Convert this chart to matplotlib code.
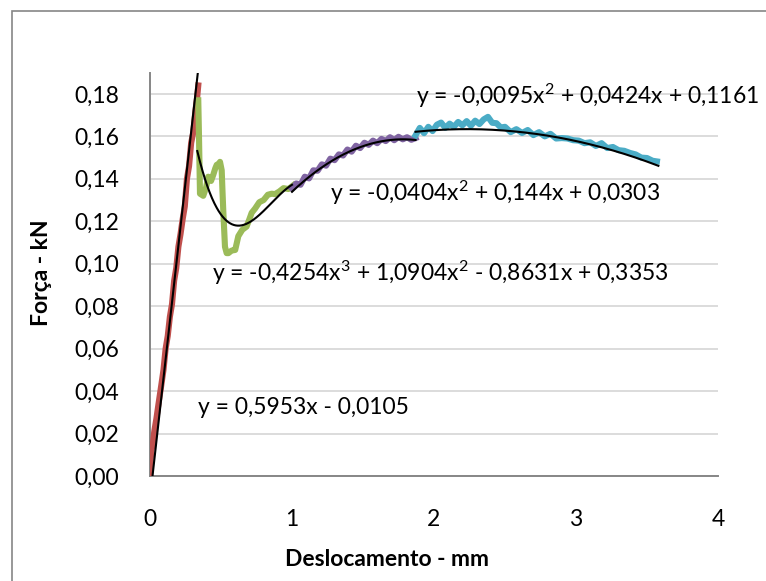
import matplotlib.pyplot as plt
import numpy as np
from matplotlib.patches import Rectangle
from matplotlib.ticker import FuncFormatter

# ---------------------------------------------------------------------------
# Data (displacement in mm, force in kN)
# ---------------------------------------------------------------------------
red_x = [0.000, 0.005, 0.010, 0.020, 0.030, 0.045, 0.060, 0.080, 0.095, 0.110,
         0.125, 0.140, 0.155, 0.170, 0.185, 0.200, 0.215, 0.230, 0.245, 0.260,
         0.275, 0.290, 0.305, 0.320, 0.333, 0.340]
red_y = [0.000, 0.008, 0.012, 0.015, 0.021, 0.027, 0.034, 0.043, 0.050, 0.060,
         0.066, 0.075, 0.081, 0.092, 0.098, 0.108, 0.114, 0.121, 0.127, 0.140,
         0.146, 0.157, 0.162, 0.172, 0.179, 0.184]

green_x = [0.340, 0.345, 0.352, 0.375, 0.395, 0.410, 0.430, 0.446, 0.460, 0.470,
           0.485, 0.493, 0.505, 0.510, 0.516, 0.528, 0.540, 0.552, 0.575, 0.600,
           0.612, 0.622, 0.650, 0.680, 0.700, 0.716, 0.740, 0.770, 0.800, 0.830,
           0.857, 0.880, 0.910, 0.940, 0.975, 1.010]
green_y = [0.177, 0.160, 0.133, 0.132, 0.136, 0.141, 0.139, 0.142, 0.145, 0.1466,
           0.147, 0.148, 0.144, 0.135, 0.125, 0.108, 0.105, 0.105, 0.1062, 0.1065,
           0.110, 0.113, 0.116, 0.1175, 0.121, 0.124, 0.126, 0.129, 0.130, 0.1325,
           0.133, 0.1328, 0.1340, 0.1356, 0.1352, 0.1370]

purple_x = [1.00, 1.03, 1.06, 1.09, 1.12, 1.15, 1.18, 1.21, 1.24, 1.27, 1.30,
            1.33, 1.36, 1.39, 1.42, 1.45, 1.48, 1.51, 1.54, 1.57, 1.60, 1.63,
            1.66, 1.69, 1.72, 1.75, 1.78, 1.81, 1.84, 1.87]
purple_y = [0.1355, 0.1378, 0.1372, 0.1410, 0.1402, 0.1440, 0.1438, 0.1468,
            0.1462, 0.1495, 0.1488, 0.1515, 0.1510, 0.1538, 0.1528, 0.1556,
            0.1545, 0.1570, 0.1560, 0.1580, 0.1568, 0.1588, 0.1578, 0.1596,
            0.1582, 0.1598, 0.1586, 0.1596, 0.1584, 0.1592]

cyan_x = [1.87, 1.90, 1.93, 1.96, 1.99, 2.02, 2.05, 2.08, 2.11, 2.14, 2.17, 2.20,
          2.23, 2.26, 2.29, 2.32, 2.35, 2.38, 2.41, 2.44, 2.47, 2.50, 2.54, 2.58,
          2.62, 2.66, 2.70, 2.74, 2.78, 2.82, 2.86, 2.90, 2.94, 2.98, 3.02, 3.06,
          3.10, 3.14, 3.18, 3.22, 3.26, 3.30, 3.34, 3.38, 3.42, 3.46, 3.50, 3.54,
          3.57]
cyan_y = [0.1605, 0.1640, 0.1615, 0.1645, 0.1625, 0.1655, 0.1665, 0.1640, 0.1660,
          0.1645, 0.1668, 0.1652, 0.1672, 0.1650, 0.1674, 0.1658, 0.1680, 0.1692,
          0.1664, 0.1662, 0.1642, 0.1645, 0.1620, 0.1634, 0.1616, 0.1630, 0.1606,
          0.1620, 0.1600, 0.1612, 0.1590, 0.1592, 0.1590, 0.1582, 0.1580, 0.1568,
          0.1572, 0.1555, 0.1568, 0.1545, 0.1550, 0.1535, 0.1532, 0.1522, 0.1515,
          0.1500, 0.1498, 0.1485, 0.1482]

# Excel trend lines: polynomial coefficients (highest power first)
trend_lin = [0.5953, -0.0105]
trend_cub = [-0.4254, 1.0904, -0.8631, 0.3353]
trend_q1 = [-0.0404, 0.144, 0.0303]
trend_q2 = [-0.0095, 0.0424, 0.1161]

eq_lin = "y = 0,5953x - 0,0105"
eq_cub = "y = -0,4254x$^{3}$ + 1,0904x$^{2}$ - 0,8631x + 0,3353"
eq_q1 = "y = -0,0404x$^{2}$ + 0,144x + 0,0303"
eq_q2 = "y = -0,0095x$^{2}$ + 0,0424x + 0,1161"

y_ticks = [0.00, 0.02, 0.04, 0.06, 0.08, 0.10, 0.12, 0.14, 0.16, 0.18]
x_ticks = [0, 1, 2, 3, 4]

plt.rcParams["font.family"] = ["Lato", "DejaVu Sans"]
plt.rcParams["mathtext.fontset"] = "custom"
plt.rcParams["mathtext.rm"] = "Lato"
plt.rcParams["mathtext.it"] = "Lato"
plt.rcParams["mathtext.default"] = "regular"

fig = plt.figure(figsize=(7.66, 5.81), dpi=100)
ax = fig.add_axes([150 / 766, 1 - 476 / 581, 568 / 766, 403.3 / 581])

# outer chart border (extends past the image on right/bottom)
fig.patches.append(Rectangle((12 / 766, -0.1), 1.2, 1 - 11 / 581 + 0.1,
                             transform=fig.transFigure, fill=False,
                             edgecolor="#868686", linewidth=1.2))

lw_data = 4.4
ax.plot(red_x, red_y, color="#C0504D", lw=lw_data, solid_joinstyle="round", zorder=3)
ax.plot(green_x, green_y, color="#9BBB59", lw=lw_data, solid_joinstyle="round", zorder=3)
ax.plot(purple_x, purple_y, color="#8064A2", lw=lw_data, solid_joinstyle="round", zorder=3)
ax.plot(cyan_x, cyan_y, color="#4BACC6", lw=lw_data, solid_joinstyle="round", zorder=3)

for coefs, x0, x1 in [(trend_lin, 0.0, 0.36), (trend_cub, 0.333, 1.0),
                      (trend_q1, 1.0, 1.87), (trend_q2, 1.87, 3.58)]:
    xs = np.linspace(x0, x1, 200)
    ax.plot(xs, np.polyval(coefs, xs), color="black", lw=1.5, zorder=4)

fs = 16.5
ax.text(1.873, 0.179, eq_q2, fontsize=fs, ha="left", va="center", clip_on=False)
ax.text(1.268, 0.1334, eq_q1, fontsize=fs, ha="left", va="center")
ax.text(0.437, 0.0957, eq_cub, fontsize=fs, ha="left", va="center")
ax.text(0.338, 0.0325, eq_lin, fontsize=fs, ha="left", va="center")

ax.set_xlim(0, 4)
ax.set_ylim(0, 0.19)
ax.set_xticks(x_ticks)
ax.set_yticks(y_ticks)
ax.yaxis.set_major_formatter(FuncFormatter(lambda v, p: f"{v:.2f}".replace(".", ",")))
ax.tick_params(axis="both", length=0, labelsize=fs)
ax.tick_params(axis="y", pad=22)
ax.tick_params(axis="x", pad=24)
ax.grid(axis="y", color="#D9D9D9", lw=1.3)
ax.set_axisbelow(True)

for s in ["top", "right"]:
    ax.spines[s].set_visible(False)
for s in ["left", "bottom"]:
    ax.spines[s].set_color("#868686")
    ax.spines[s].set_linewidth(1.4)

ax.set_xlabel("Deslocamento - mm", fontsize=fs, fontweight="bold", va="center")
ax.xaxis.set_label_coords((387 - 150) / 568, (476 - 560) / 403.3)
ax.set_ylabel("Força - kN", fontsize=fs, fontweight="bold", va="center")
ax.yaxis.set_label_coords((42 - 150) / 568, 0.503)

fig.savefig("out.png", dpi=100)
